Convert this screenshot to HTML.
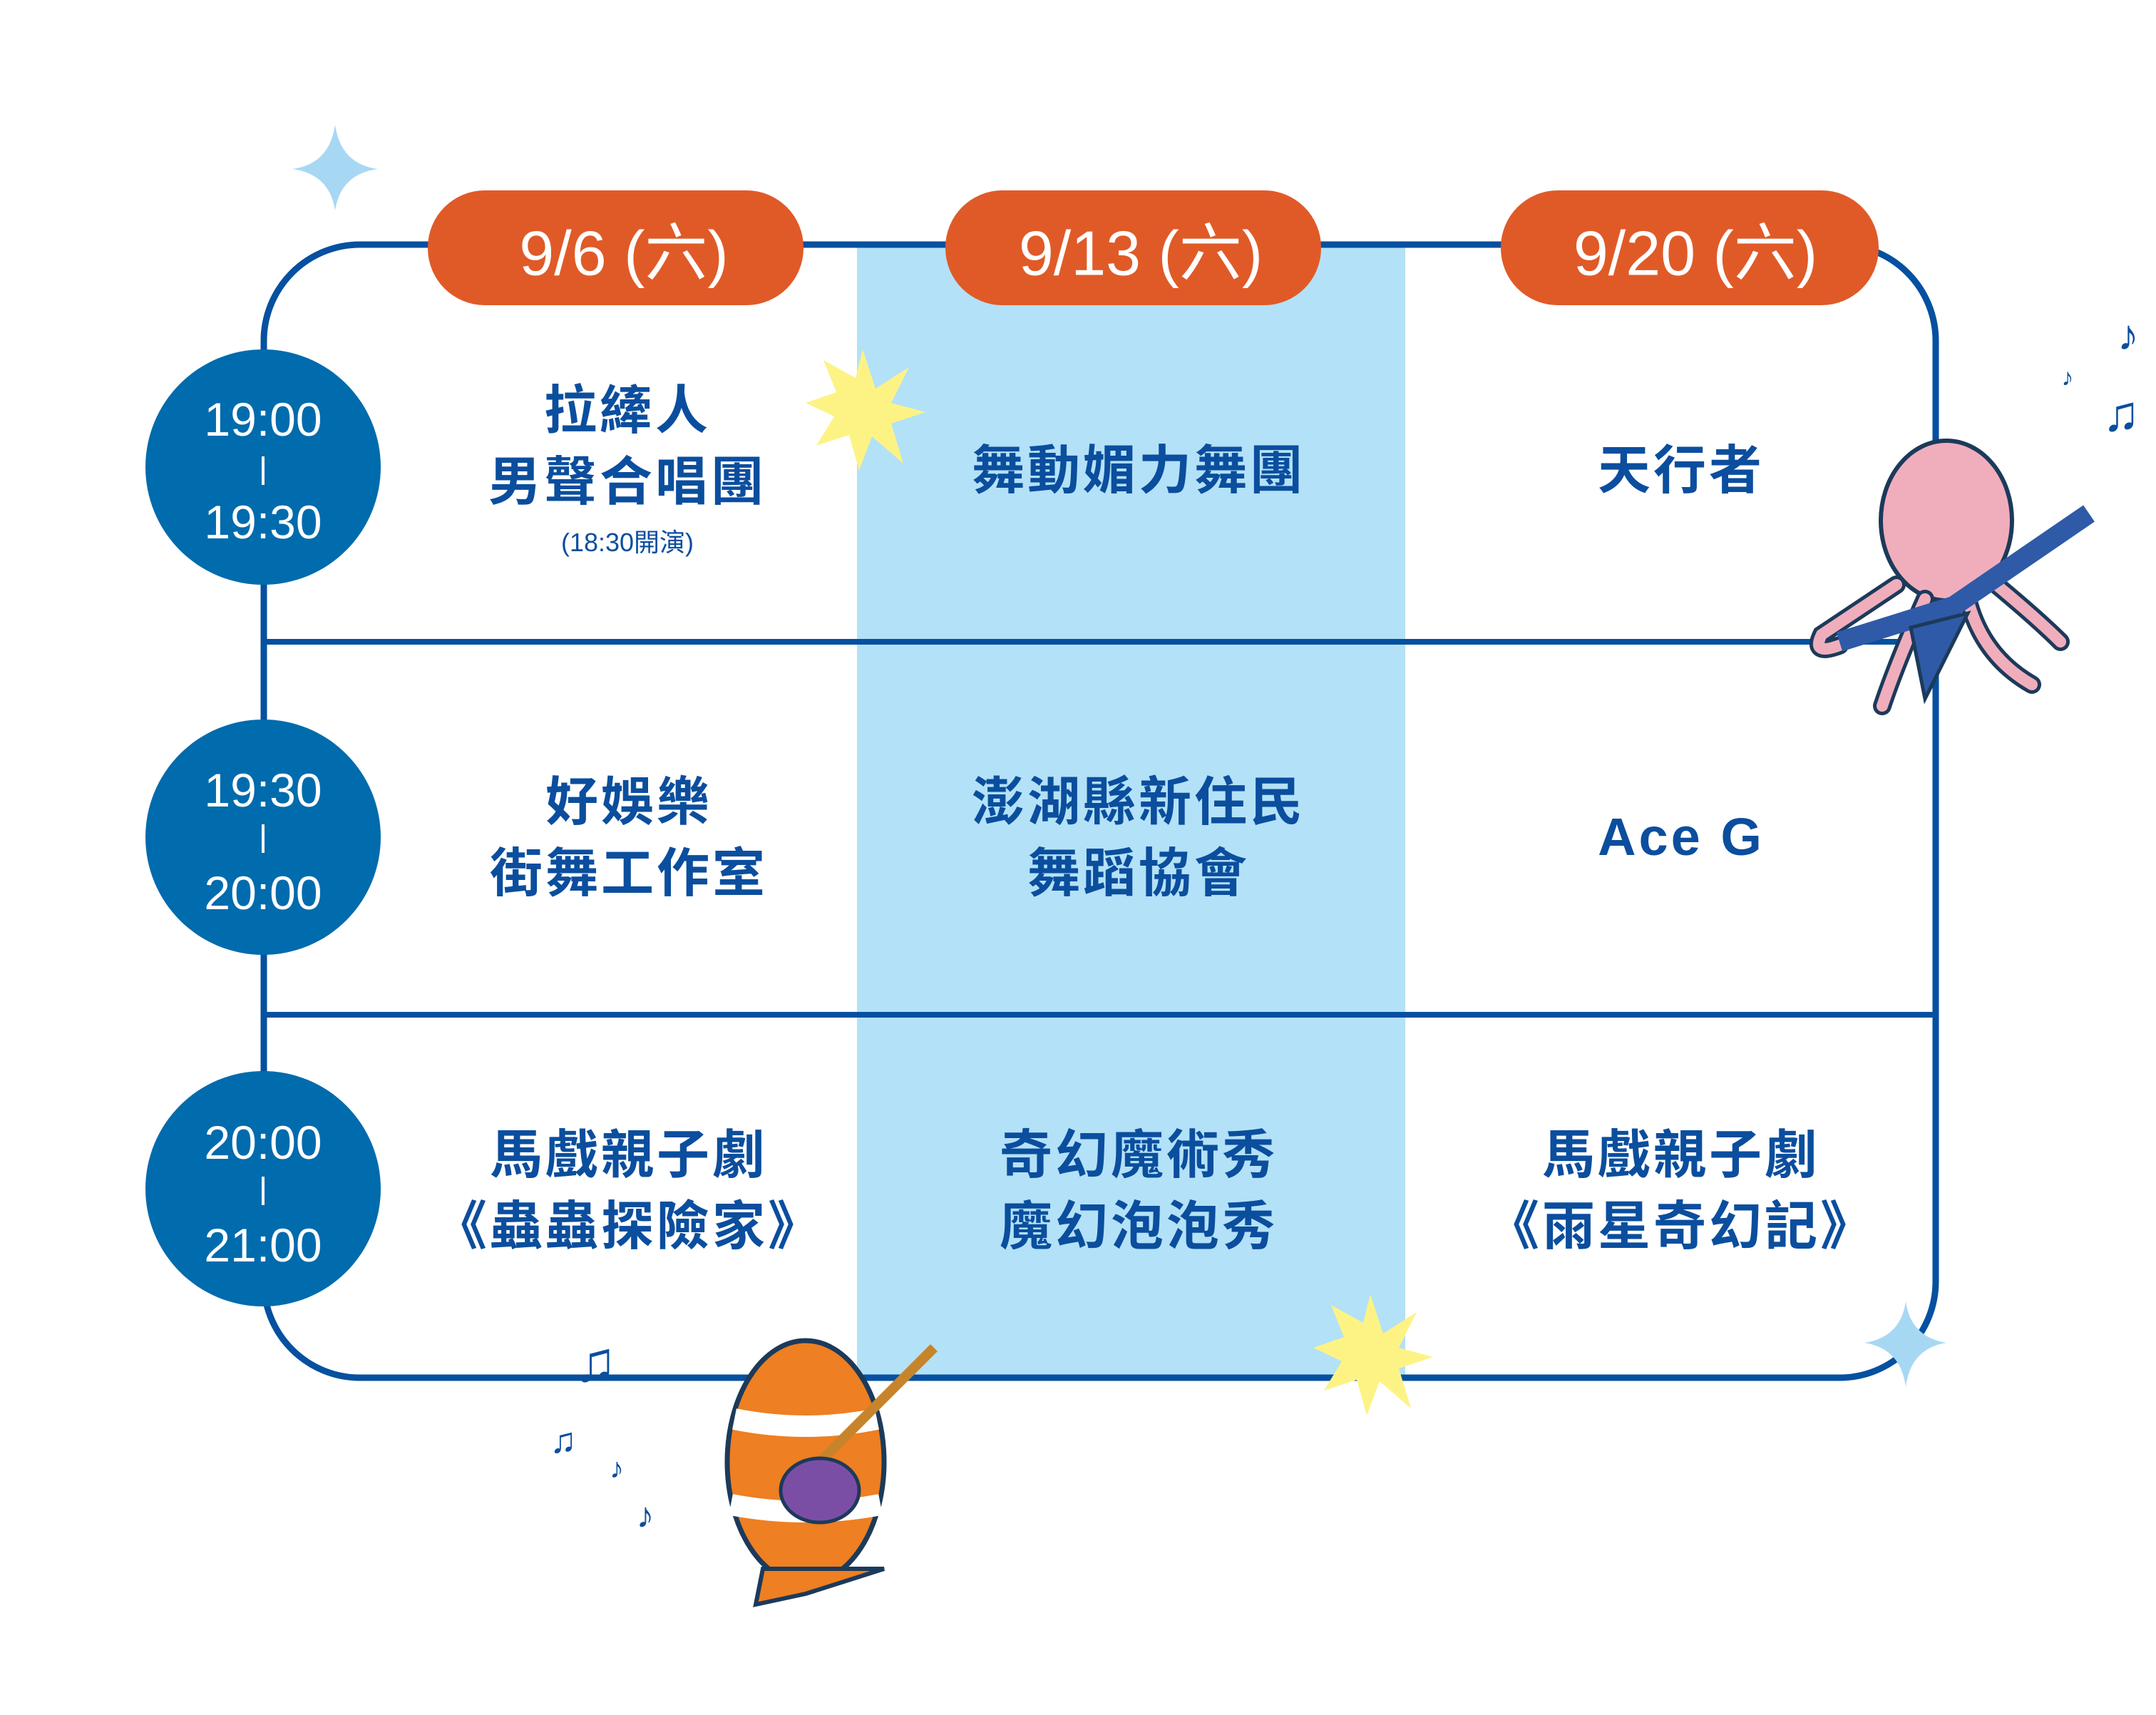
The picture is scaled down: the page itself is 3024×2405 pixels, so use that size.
<!DOCTYPE html>
<html><head><meta charset="utf-8"><style>
html,body{margin:0;padding:0;background:#fff;}
body{width:3024px;height:2405px;position:relative;overflow:hidden;font-family:"Liberation Sans","Noto Sans CJK TC",sans-serif;}
.t{position:absolute;transform:translate(-50%,-50%);text-align:center;white-space:nowrap;color:#0b4e9e;font-weight:bold;font-family:"Liberation Sans","Noto Sans CJK TC",sans-serif;}
.c{font-size:74px;line-height:100px;letter-spacing:4px;}
.w{color:#fff;font-weight:normal;}
</style></head><body>
<svg width="3024" height="2405" style="position:absolute;left:0;top:0">
<rect x="1202" y="343" width="769" height="1589" fill="#b3e1f7"/>
<rect x="370" y="343" width="2345" height="1589" rx="135" ry="135" fill="none" stroke="#0550a0" stroke-width="9"/>
<line x1="370" y1="900" x2="2715" y2="900" stroke="#0550a0" stroke-width="8"/>
<line x1="370" y1="1423" x2="2715" y2="1423" stroke="#0550a0" stroke-width="8"/>
<rect x="600" y="267" width="527" height="161" rx="80" fill="#e05a27"/>
<rect x="1326" y="267" width="527" height="161" rx="80" fill="#e05a27"/>
<rect x="2105" y="267" width="530" height="161" rx="80" fill="#e05a27"/>
<circle cx="369" cy="655" r="165" fill="#006bad"/>
<circle cx="369" cy="1174" r="165" fill="#006bad"/>
<circle cx="369" cy="1667" r="165" fill="#006bad"/>
<line x1="369" y1="640" x2="369" y2="680" stroke="#fff" stroke-width="4"/>
<line x1="369" y1="1156" x2="369" y2="1196" stroke="#fff" stroke-width="4"/>
<line x1="369" y1="1650" x2="369" y2="1690" stroke="#fff" stroke-width="4"/>
<path d="M470 175 Q478 230 530 237 Q478 244 470 295 Q462 244 410 237 Q462 230 470 175Z" fill="#a7d8f3"/>
<path d="M2673 1825 Q2680 1875 2730 1883 Q2680 1891 2673 1945 Q2666 1891 2615 1883 Q2666 1875 2673 1825Z" fill="#a7d8f3"/>
<polygon points="1210,490 1228,545 1275,515 1250,565 1298,578 1250,594 1267,650 1223,612 1205,660 1191,610 1145,625 1170,584 1130,565 1173,550 1155,505 1200,530" fill="#fdf385"/>
<polygon points="1922,1815 1940,1870 1987,1840 1962,1890 2010,1903 1962,1919 1979,1975 1935,1937 1917,1985 1903,1935 1857,1950 1882,1909 1842,1890 1885,1875 1867,1830 1912,1855" fill="#fdf385"/>
<g>
<ellipse cx="2730" cy="730" rx="92" ry="112" fill="#f0aebd" stroke="#1c3a5a" stroke-width="6"/>
<path d="M2660 820 Q2600 860 2555 890 Q2540 920 2580 905 M2700 840 Q2660 930 2640 990 M2760 840 Q2780 920 2850 960 M2800 820 Q2860 870 2890 900" stroke="#1c3a5a" stroke-width="26" fill="none" stroke-linecap="round"/>
<path d="M2660 820 Q2600 860 2555 890 Q2540 920 2580 905 M2700 840 Q2660 930 2640 990 M2760 840 Q2780 920 2850 960 M2800 820 Q2860 870 2890 900" stroke="#f0aebd" stroke-width="16" fill="none" stroke-linecap="round"/>
<path d="M2580 900 L2740 850 L2930 720" stroke="#2f5aa8" stroke-width="28" fill="none"/>
<path d="M2680 880 L2700 980 L2760 860Z" fill="#2f5aa8" stroke="#1c3a5a" stroke-width="5"/>
</g>
<g>
<ellipse cx="1130" cy="2050" rx="110" ry="170" fill="#ee7f22" stroke="#1c3a5a" stroke-width="7"/>
<path d="M1030 1990 Q1130 2010 1230 1990 M1025 2110 Q1130 2130 1235 2110" stroke="#fff" stroke-width="30" fill="none"/>
<path d="M1070 2200 L1060 2250 L1130 2235 L1240 2200Z" fill="#ee7f22" stroke="#1c3a5a" stroke-width="6"/>
<path d="M1100 2100 L1310 1890" stroke="#c7842b" stroke-width="14"/>
<ellipse cx="1150" cy="2090" rx="55" ry="45" fill="#7b4ea6" stroke="#1c3a5a" stroke-width="5"/>
</g>
</svg>
<div class="t" style="left:2985px;top:470px;font-size:60px;color:#0b4e9e">♪</div>
<div class="t" style="left:2900px;top:530px;font-size:34px;color:#0b4e9e">♪</div>
<div class="t" style="left:2975px;top:580px;font-size:70px;color:#0b4e9e">♫</div>
<div class="t" style="left:835px;top:1910px;font-size:80px;color:#0b4e9e">♫</div>
<div class="t" style="left:790px;top:2020px;font-size:50px;color:#0b4e9e">♫</div>
<div class="t" style="left:865px;top:2060px;font-size:40px;color:#0b4e9e">♪</div>
<div class="t" style="left:905px;top:2125px;font-size:50px;color:#0b4e9e">♪</div>

<div class="t w" style="left:875px;top:348px;font-size:88px">9/6 (六)</div>
<div class="t w" style="left:1600px;top:348px;font-size:88px">9/13 (六)</div>
<div class="t w" style="left:2378px;top:348px;font-size:88px">9/20 (六)</div>

<div class="t w" style="left:369px;top:588px;font-size:66px">19:00</div>
<div class="t w" style="left:369px;top:732px;font-size:66px">19:30</div>
<div class="t w" style="left:369px;top:1108px;font-size:66px">19:30</div>
<div class="t w" style="left:369px;top:1252px;font-size:66px">20:00</div>
<div class="t w" style="left:369px;top:1602px;font-size:66px">20:00</div>
<div class="t w" style="left:369px;top:1746px;font-size:66px">21:00</div>

<div class="t c" style="left:880px;top:626px">拉縴人<br>男聲合唱團</div>
<div class="t" style="left:880px;top:758px;font-size:36px;font-weight:normal">(18:30開演)</div>
<div class="t c" style="left:1597px;top:660px">舞動媚力舞團</div>
<div class="t c" style="left:2358px;top:660px">天行者</div>
<div class="t c" style="left:882px;top:1175px">好娛樂<br>街舞工作室</div>
<div class="t c" style="left:1597px;top:1175px">澎湖縣新住民<br>舞蹈協會</div>
<div class="t c" style="left:2358px;top:1174px">Ace G</div>
<div class="t c" style="left:882px;top:1670px">馬戲親子劇<br>《蟲蟲探險家》</div>
<div class="t c" style="left:1597px;top:1670px">奇幻魔術秀<br>魔幻泡泡秀</div>
<div class="t c" style="left:2358px;top:1670px">馬戲親子劇<br>《雨星奇幻記》</div>
</body></html>
